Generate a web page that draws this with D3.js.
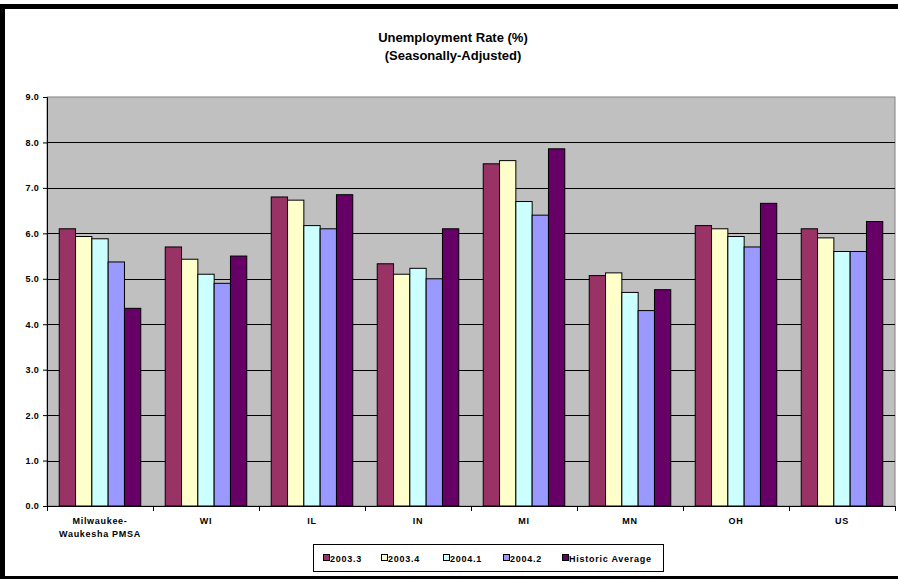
<!DOCTYPE html>
<html>
<head>
<meta charset="utf-8">
<script src="https://cdn.jsdelivr.net/npm/d3@7/dist/d3.min.js"></script>
<style>
  html, body { margin: 0; padding: 0; background: #fff; }
  svg { display: block; font-family: "Liberation Sans", Arial, sans-serif; }
</style>
</head>
<body>
<svg id="chart" width="898" height="579"></svg>
<script>
// Unemployment rates by area, seasonally adjusted
const categories = [
  ["Milwaukee-", "Waukesha PMSA"], ["WI"], ["IL"], ["IN"], ["MI"], ["MN"], ["OH"], ["US"]
];
const seriesNames = ["2003.3", "2003.4", "2004.1", "2004.2", "Historic Average"];
const s2003q3 = [6.1, 5.7, 6.8, 5.33, 7.53, 5.07, 6.17, 6.1];
const s2003q4 = [5.93, 5.43, 6.73, 5.1, 7.6, 5.13, 6.1, 5.9];
const s2004q1 = [5.88, 5.1, 6.17, 5.23, 6.7, 4.7, 5.93, 5.6];
const s2004q2 = [5.37, 4.9, 6.1, 5.0, 6.4, 4.3, 5.7, 5.6];
const sHistoric = [4.35, 5.5, 6.85, 6.1, 7.86, 4.76, 6.66, 6.26];
const yTicks = [0, 1, 2, 3, 4, 5, 6, 7, 8, 9];
const colors = ["#993366", "#FFFFCC", "#CCFFFF", "#9999FF", "#660066"];

const seriesValues = [s2003q3, s2003q4, s2004q1, s2004q2, sHistoric];

const svg = d3.select("#chart");
const W = 898, H = 579;

// outer frame
svg.append("rect").attr("x", 0).attr("y", 4).attr("width", W).attr("height", 5).attr("fill", "#000");
svg.append("rect").attr("x", 0).attr("y", 4).attr("width", 5).attr("height", H - 4).attr("fill", "#000");
svg.append("rect").attr("x", 0).attr("y", 576).attr("width", W).attr("height", 3).attr("fill", "#000");

// title
const title = svg.append("text").attr("text-anchor", "middle")
  .attr("font-size", 13).attr("font-weight", "bold").attr("fill", "#000");
title.append("tspan").attr("x", 453).attr("y", 42).text("Unemployment Rate (%)");
title.append("tspan").attr("x", 453).attr("y", 60).text("(Seasonally-Adjusted)");

// plot area
const plotLeft = 47, plotRight = 895, plotTop = 97, plotBottom = 506;
const x0 = d3.scaleBand().domain(d3.range(categories.length)).range([plotLeft, plotRight]).padding(0);
const bw = x0.bandwidth();
const gap = bw / (seriesNames.length + 1.5) * 1.5;
const x1 = d3.scaleBand().domain(d3.range(seriesNames.length)).range([gap / 2, bw - gap / 2]).padding(0);
const y = d3.scaleLinear().domain([0, 9]).range([plotBottom, plotTop]);

svg.append("rect").attr("x", plotLeft).attr("y", plotTop).attr("width", plotRight - plotLeft).attr("height", plotBottom - plotTop)
  .attr("fill", "#C0C0C0").attr("stroke", "#808080").attr("stroke-width", 1);

// gridlines
svg.append("g").selectAll("line").data(yTicks.filter(d => d > 0 && d < 9)).join("line")
  .attr("x1", plotLeft).attr("x2", plotRight)
  .attr("y1", d => Math.round(y(d)) + 0.5).attr("y2", d => Math.round(y(d)) + 0.5)
  .attr("stroke", "#000").attr("stroke-width", 1);

// bars
const groups = svg.append("g").selectAll("g").data(categories).join("g")
  .attr("transform", (d, i) => `translate(${x0(i)},0)`);
groups.selectAll("rect").data((d, i) => seriesValues.map((s, j) => ({ j, v: s[i] }))).join("rect")
  .attr("x", d => x1(d.j))
  .attr("y", d => y(d.v))
  .attr("width", x1.bandwidth())
  .attr("height", d => y(0) - y(d.v))
  .attr("fill", d => colors[d.j])
  .attr("stroke", "#000").attr("stroke-width", 1);

// y axis
const yAxis = svg.append("g").attr("transform", `translate(${plotLeft},0)`)
  .call(d3.axisLeft(y).tickValues(yTicks).tickFormat(d3.format(".1f")).tickSize(4).tickPadding(4));
yAxis.select(".domain").attr("stroke", "#000");
yAxis.selectAll("text").attr("font-size", 9).attr("font-weight", "bold").attr("fill", "#000")
  .attr("letter-spacing", 0.3)
  .attr("font-family", "Liberation Sans, Arial, sans-serif");

// x axis
const xAxisG = svg.append("g").attr("transform", `translate(0,${plotBottom})`);
xAxisG.append("line").attr("x1", plotLeft).attr("x2", plotRight).attr("y1", 0.5).attr("y2", 0.5).attr("stroke", "#000");
xAxisG.selectAll("line.tick").data(d3.range(categories.length + 1)).join("line").attr("class", "tick")
  .attr("x1", i => Math.round(plotLeft + i * bw) + 0.5).attr("x2", i => Math.round(plotLeft + i * bw) + 0.5)
  .attr("y1", 0).attr("y2", 5).attr("stroke", "#000");
const xl = xAxisG.selectAll("text").data(categories).join("text")
  .attr("text-anchor", "middle").attr("font-size", 9).attr("font-weight", "bold").attr("fill", "#000")
  .attr("letter-spacing", 0.7);
xl.each(function (d, i) {
  const t = d3.select(this);
  d.forEach((line, k) => {
    t.append("tspan").attr("x", x0(i) + bw / 2).attr("y", 18 + k * 13).text(line);
  });
});

// legend
const lg = svg.append("g");
lg.append("rect").attr("x", 313.5).attr("y", 544.5).attr("width", 350).attr("height", 27)
  .attr("fill", "#fff").attr("stroke", "#000").attr("stroke-width", 1);
const legendX = [323, 381, 443, 503, 562];
const items = lg.selectAll("g").data(seriesNames).join("g")
  .attr("transform", (d, i) => `translate(${legendX[i]},558)`);
items.append("rect").attr("x", 0.5).attr("y", -3.5).attr("width", 6).attr("height", 6)
  .attr("fill", (d, i) => colors[i]).attr("stroke", "#000").attr("stroke-width", 1);
items.append("text").attr("x", 7).attr("y", 3.5).attr("font-size", 9).attr("font-weight", "bold")
  .attr("letter-spacing", 0.75).attr("fill", "#000").text(d => d);
</script>
</body>
</html>
